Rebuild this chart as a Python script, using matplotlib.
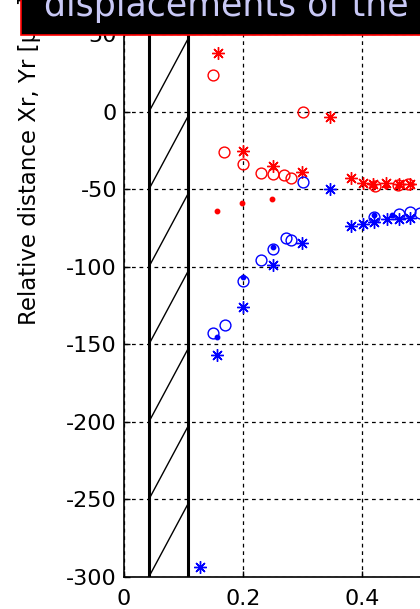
import matplotlib
matplotlib.use('Agg')
import matplotlib.pyplot as plt
import matplotlib.patches as patches

plt.rcParams['axes.unicode_minus'] = False

# red series (Xr)
red_star_x = [0.1585, 0.1995, 0.250, 0.300, 0.346, 0.381, 0.401, 0.419, 0.440, 0.462, 0.481]
red_star_y = [37.7, -25.4, -34.8, -39.1, -3.2, -42.6, -46.2, -46.5, -46.3, -46.6, -46.5]
red_circ_x = [0.149, 0.1686, 0.1995, 0.2297, 0.250, 0.2694, 0.280, 0.3014, 0.422, 0.461, 0.478]
red_circ_y = [23.7, -26.2, -33.9, -39.3, -40.2, -40.8, -42.6, -0.4, -47.7, -47.3, -46.8]
red_dot_x = [0.157, 0.199, 0.249, 0.420, 0.440, 0.461]
red_dot_y = [-63.9, -59.1, -56.5, -48.0, -48.2, -48.0]

# blue series (Yr)
blue_star_x = [0.1277, 0.157, 0.1995, 0.250, 0.2997, 0.346, 0.381, 0.401, 0.420, 0.4415, 0.462, 0.481]
blue_star_y = [-293.5, -157.0, -125.8, -98.9, -84.5, -50.1, -73.7, -72.7, -71.0, -69.4, -69.4, -68.8]
blue_circ_x = [0.149, 0.170, 0.2005, 0.230, 0.251, 0.272, 0.280, 0.3014, 0.420, 0.462, 0.481, 0.4975]
blue_circ_y = [-142.6, -137.6, -109.2, -95.7, -88.8, -81.7, -82.8, -45.6, -67.7, -66.0, -64.9, -65.4]
blue_dot_x = [0.157, 0.2005, 0.250, 0.420, 0.450]
blue_dot_y = [-145.2, -106.8, -87.1, -66.6, -66.6]

# wall (hatched strip)
wall_x = [0.042, 0.1076]
hatch_y0 = [-300, -250, -200, -150, -100, -50, 0]
hatch_rise = 47

x_ticks = [0, 0.2, 0.4]
x_tick_labels = ['0', '0.2', '0.4']
y_ticks = [-300, -250, -200, -150, -100, -50, 0, 50]

ylabel = 'Relative distance Xr, Yr [\u03bcm]'
title = 'displacements of the'

fig = plt.figure(figsize=(4.2, 6.09), dpi=100)
ax = fig.add_axes([0.2952, 0.053, 0.7048, 0.8908])

ax.set_xlim(0, 0.4975)
ax.set_ylim(-300, 50)

star = (8, 2, 0)
ax.plot(red_star_x, red_star_y, ls='none', marker=star, ms=9, mec='red', mew=1.0)
ax.plot(red_circ_x, red_circ_y, ls='none', marker='o', ms=7.8, mfc='none', mec='red', mew=1.0)
ax.plot(red_dot_x, red_dot_y, ls='none', marker='o', ms=3.2, mfc='red', mec='red')
ax.plot(blue_star_x, blue_star_y, ls='none', marker=star, ms=9, mec='blue', mew=1.0)
ax.plot(blue_circ_x, blue_circ_y, ls='none', marker='o', ms=7.8, mfc='none', mec='blue', mew=1.0)
ax.plot(blue_dot_x, blue_dot_y, ls='none', marker='o', ms=3.2, mfc='blue', mec='blue')

for wx in wall_x:
    ax.plot([wx, wx], [-300, 50], color='black', lw=2.2, solid_capstyle='butt')
for y0 in hatch_y0:
    ax.plot(wall_x, [y0, y0 + hatch_rise], color='black', lw=1.0)

ax.set_xticks(x_ticks)
ax.set_xticklabels(x_tick_labels)
ax.set_yticks(y_ticks)
ax.grid(True, color='black', ls=(0, (3, 3)), lw=0.9)
ax.tick_params(direction='in', length=4, labelsize=16, width=1)
ax.tick_params(axis='x', pad=9)
ax.tick_params(axis='y', pad=5)
for side in ['top', 'right']:
    ax.spines[side].set_visible(False)
for side in ['left', 'bottom']:
    ax.spines[side].set_linewidth(1.2)

fig.text(0.0714, 0.466, ylabel, rotation=90, ha='center', va='bottom', fontsize=16.5)

box = patches.Rectangle((0.05, 1 - 35 / 609), 1.0, 0.1, transform=fig.transFigure,
                        facecolor='black', edgecolor='red', lw=1.2, zorder=5, clip_on=False)
fig.patches.append(box)
fig.text(0.105, 1 - 16 / 609, title, color='#c8c8f5', fontsize=25, ha='left',
         va='baseline', zorder=6)

fig.savefig('out.png', dpi=100)
